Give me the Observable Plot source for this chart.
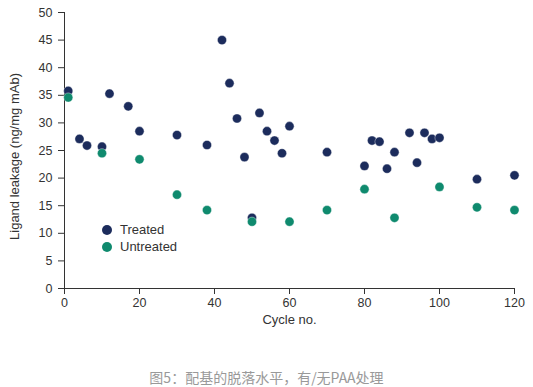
<!DOCTYPE html>
<html>
<head>
<meta charset="utf-8">
<script src="https://cdn.jsdelivr.net/npm/d3@7"></script>
<script src="https://cdn.jsdelivr.net/npm/@observablehq/plot@0.6"></script>
<style>
  body { margin: 0; background: #fff; font-family: "Liberation Sans", Arial, sans-serif; }
  #wrap { position: relative; width: 533px; }
  #legend { position: absolute; left: 102px; top: 221px; font-size: 13px; color: #333; line-height: 17px; }
  #legend .item { display: flex; align-items: center; }
  #legend .sw { width: 10px; height: 10px; border-radius: 50%; margin-right: 8px; }
  #caption { width: 533px; text-align: center; font-family: "Noto Sans CJK SC", sans-serif; font-size: 14px; color: #999; line-height: 26px; height: 26px; }
</style>
</head>
<body>
<div id="wrap"></div>
<div id="caption"></div>
<script>
const seriesNames = ["Treated", "Untreated"];
const seriesColors = ["#1c2c5c", "#0f8a6e"];

const treatedCycles = [1, 4, 6, 10, 12, 17, 20, 30, 38, 42, 44, 46, 48, 50, 52, 54, 56, 58, 60, 70, 80, 82, 84, 86, 88, 92, 94, 96, 98, 100, 110, 120];
const treatedValues = [35.8, 27.1, 25.9, 25.7, 35.3, 33, 28.5, 27.8, 26, 45, 37.2, 30.8, 23.8, 12.8, 31.8, 28.5, 26.8, 24.5, 29.4, 24.7, 22.2, 26.8, 26.6, 21.7, 24.7, 28.2, 22.8, 28.2, 27.1, 27.3, 19.8, 20.5];

const untreatedCycles = [1, 10, 20, 30, 38, 50, 60, 70, 80, 88, 100, 110, 120];
const untreatedValues = [34.6, 24.5, 23.4, 17, 14.2, 12.1, 12.1, 14.2, 18, 12.8, 18.4, 14.7, 14.2];

const xTicks = [0, 20, 40, 60, 80, 100, 120];
const yTicks = [0, 5, 10, 15, 20, 25, 30, 35, 40, 45, 50];
const xLabel = "Cycle no.";
const yLabel = "Ligand leakage (ng/mg mAb)";
const captionText = "图5：配基的脱落水平，有/无PAA处理";

const data = [
  ...treatedCycles.map((c, i) => ({cycle: c, value: treatedValues[i], series: seriesNames[0]})),
  ...untreatedCycles.map((c, i) => ({cycle: c, value: untreatedValues[i], series: seriesNames[1]}))
];

const chart = Plot.plot({
  width: 533,
  height: 364,
  marginLeft: 64,
  marginRight: 19,
  marginTop: 12,
  marginBottom: 76,
  style: {fontFamily: "'Liberation Sans', Arial, sans-serif", fontSize: "12.5px", color: "#333"},
  x: {domain: [0, 120], ticks: xTicks, tickSize: 6, tickPadding: 4, label: null},
  y: {domain: [0, 50], ticks: yTicks, tickSize: 6, tickPadding: 6, label: null},
  color: {domain: seriesNames, range: seriesColors},
  marks: [
    Plot.ruleX([0], {stroke: "#333"}),
    Plot.ruleY([0], {stroke: "#333"}),
    Plot.axisX({ticks: xTicks, tickSize: 6, tickPadding: 4, label: null, stroke: "#333"}),
    Plot.axisY({ticks: yTicks, tickSize: 6, tickPadding: 6, label: null, stroke: "#333"}),
    Plot.dot(data.filter(d => d.series === seriesNames[0]), {x: "cycle", y: "value", r: 4.6, fill: d => d.series, stroke: "white", strokeWidth: 0.4}),
    Plot.dot(data.filter(d => d.series === seriesNames[1]), {x: "cycle", y: "value", r: 4.6, fill: d => d.series, stroke: "white", strokeWidth: 0.4}),
    Plot.text([xLabel], {frameAnchor: "bottom", dy: 35, fontSize: 13, fill: "#333"}),
    Plot.text([yLabel], {frameAnchor: "left", textAnchor: "middle", dx: -50, dy: 6, rotate: -90, fontSize: 13, fill: "#333"})
  ]
});

const wrap = document.getElementById("wrap");
wrap.appendChild(chart);

const legend = document.createElement("div");
legend.id = "legend";
seriesNames.forEach((name, i) => {
  const item = document.createElement("div");
  item.className = "item";
  const sw = document.createElement("span");
  sw.className = "sw";
  sw.style.background = seriesColors[i];
  const lab = document.createElement("span");
  lab.textContent = name;
  item.appendChild(sw);
  item.appendChild(lab);
  legend.appendChild(item);
});
wrap.appendChild(legend);

document.getElementById("caption").textContent = captionText;
</script>
</body>
</html>
